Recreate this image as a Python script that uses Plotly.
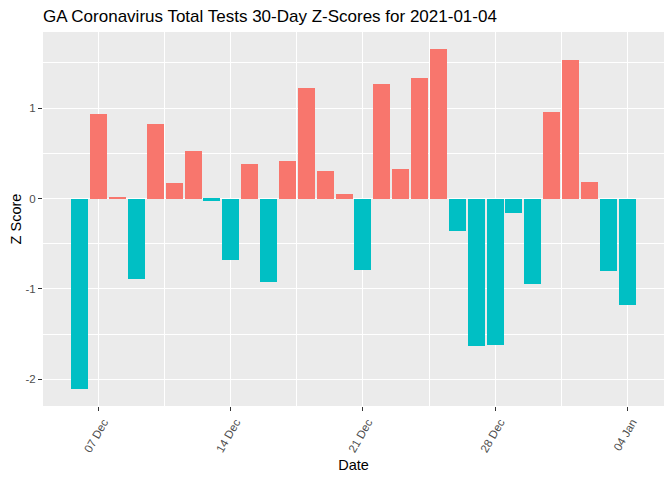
import pandas as pd
import plotly.graph_objects as go

dates = pd.date_range("2020-12-06", "2021-01-04", freq="D")
z_scores = [-2.107, 0.938, 0.011, -0.89, 0.827, 0.176, 0.529, -0.022, -0.68, 0.386,
            -0.926, 0.419, 1.224, 0.309, 0.055, -0.79, 1.268, 0.331, 1.335, 1.654,
            -0.36, -1.629, -1.618, -0.162, -0.945, 0.96, 1.533, 0.188, -0.80, -1.176]
tick_dates = ["2020-12-07", "2020-12-14", "2020-12-21", "2020-12-28", "2021-01-04"]
y_ticks = [-2, -1, 0, 1]
y_tick_labels = ["-2", "-1", "0", "1"]

pos_color = "#F8766D"
neg_color = "#00BFC4"
colors = [pos_color if v > 0 else neg_color for v in z_scores]

fig = go.Figure(go.Bar(
    x=dates, y=z_scores, marker=dict(color=colors, line=dict(width=0)),
    width=0.9 * 86400000, showlegend=False,
))

span = pd.Timedelta(days=30)
xmin = dates[0] - pd.Timedelta(hours=0.45 * 24) - span * 0.05
xmax = dates[-1] + pd.Timedelta(hours=0.45 * 24) + span * 0.05

ymin, ymax = min(z_scores), max(z_scores)
yr = ymax - ymin

# page body has an 8px margin, so the figure is sized to fill the rest of the window
W, H = 664, 472
fig.update_layout(
    width=W, height=H,
    margin=dict(l=35, r=8, t=24, b=74, autoexpand=False),
    paper_bgcolor="white", plot_bgcolor="#EBEBEB",
    font=dict(family="Liberation Sans, Arial, sans-serif", color="black"),
    title=dict(text="GA Coronavirus Total Tests 30-Day Z-Scores for 2021-01-04",
               x=35 / W, xanchor="left", y=1 - 8 / H, yanchor="middle",
               font=dict(size=17, color="black"), automargin=False),
    bargap=0,
)
fig.update_xaxes(
    range=[xmin, xmax], tickvals=pd.to_datetime(tick_dates), tickformat="%d %b",
    tickangle=-60, tickfont=dict(size=11.5, color="#4D4D4D"), ticklabelshift=5,
    ticks="outside", ticklen=4, tickcolor="#333333", tickwidth=1,
    showgrid=True, gridcolor="white", gridwidth=1.1, zeroline=False,
    minor=dict(tick0="2020-12-03 12:00", dtick=7 * 86400000, showgrid=True,
               gridcolor="white", gridwidth=0.55, ticks=""),
    title=dict(text="Date", font=dict(size=14.5, color="black"), standoff=6),
    showline=False, automargin=False,
)
fig.update_yaxes(
    range=[ymin - 0.05 * yr, ymax + 0.05 * yr], tickvals=y_ticks, ticktext=y_tick_labels,
    tickfont=dict(size=11.5, color="#4D4D4D"),
    ticks="outside", ticklen=4, tickcolor="#333333", tickwidth=1,
    showgrid=True, gridcolor="white", gridwidth=1.1, zeroline=False,
    minor=dict(dtick=0.5, tick0=0, showgrid=True, gridcolor="white", gridwidth=0.55, ticks=""),
    title=dict(text="Z Score", font=dict(size=14.5, color="black"), standoff=10),
    showline=False, automargin=False,
)

fig.write_html("out.html")
